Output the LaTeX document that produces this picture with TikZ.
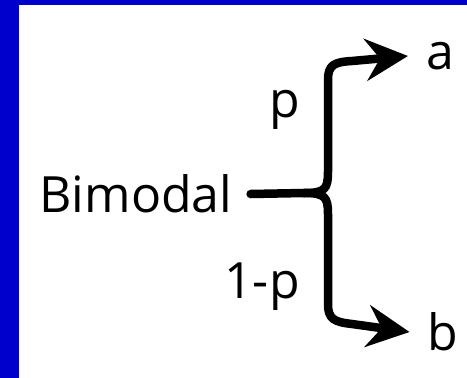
\documentclass[tikz,border=0pt]{standalone}
\usepackage{fontspec}
\setmainfont{Open Sans}
\usetikzlibrary{arrows.meta}
\definecolor{frameblue}{RGB}{0, 0, 204}

\begin{document}
\begin{tikzpicture}[
  x=1pt, y=-1pt,
  lbl/.style={inner sep=2pt, font=\fontsize{50}{60}\selectfont},
  arm/.style={line width=8.5pt, line cap=round, line join=round},
  arr/.style={arm, -{Stealth[length=43pt, width=43pt, inset=15pt, line width=0pt]}}
]
  \useasboundingbox (0,0) rectangle (467,378);
  \fill[frameblue] (0,0) rectangle (467,5);
  \fill[frameblue] (0,0) rectangle (19,378);

  \node[lbl, inner xsep=18pt] (bimodal) at (136,194) {Bimodal};
  \node[lbl, inner xsep=18pt] (outa) at (440,56) {a};
  \node[lbl, inner xsep=18pt] (outb) at (443,332) {b};
  \node[lbl] (probp) at (285,110) {p};
  \node[lbl] (probq) at (262,287) {1-p};

  \coordinate (fork) at (304,193);
  \draw[arm] (bimodal.east) -- (fork);
  \draw[arr] (fork) .. controls (325,193) and (328,189) .. (328,172) -- (328,80)
    .. controls (328,65) and (334,62) .. (352,61) -- (outa.west);
  \draw[arr] (fork) .. controls (325,193) and (328,197) .. (328,214) -- (328,304)
    .. controls (328,319) and (334,322) .. (352,324) -- (outb.west);
\end{tikzpicture}
\end{document}
